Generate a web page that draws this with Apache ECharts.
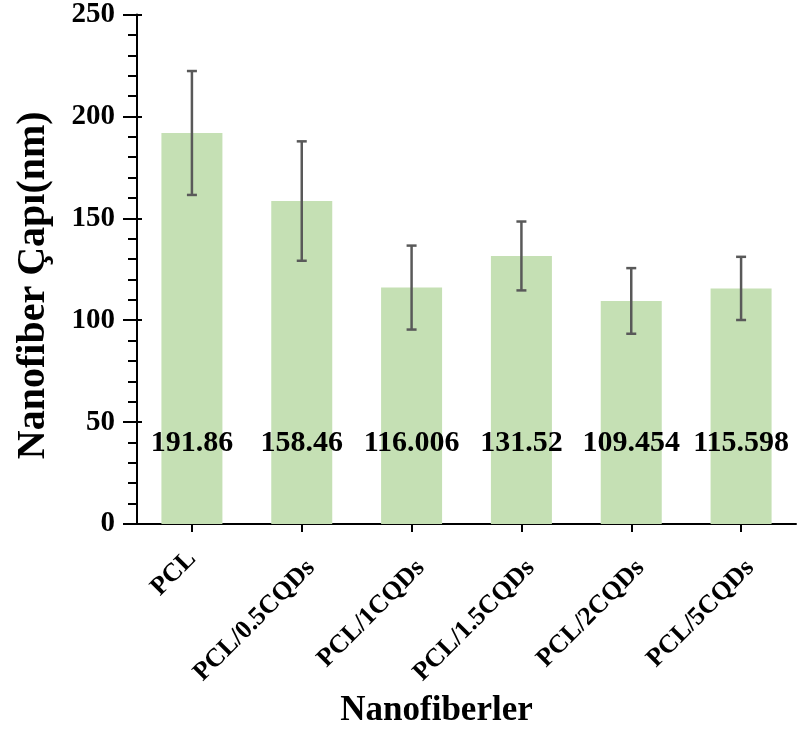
<!DOCTYPE html>
<html>
<head>
<meta charset="utf-8">
<script src="https://cdn.jsdelivr.net/npm/echarts@6/dist/echarts.min.js"></script>
<style>
html,body{margin:0;padding:0;background:#fff;}
#chart{width:803px;height:751px;}
</style>
</head>
<body>
<div id="chart"></div>
<script>
const categories = ['PCL', 'PCL/0.5CQDs', 'PCL/1CQDs', 'PCL/1.5CQDs', 'PCL/2CQDs', 'PCL/5CQDs'];
const means = [191.86, 158.46, 116.006, 131.52, 109.454, 115.598];
const sds = [30.4, 29.3, 20.6, 16.9, 16.1, 15.5];
const yTicks = [0, 50, 100, 150, 200, 250];

const FONT = '"Liberation Serif", "Times New Roman", serif';

const chart = echarts.init(document.getElementById('chart'), null, {renderer: 'canvas'});

const errData = categories.map((c, i) => [i, means[i], sds[i]]);
const xData = categories.map(c => (c.length > 4 ? {value: c, textStyle: {verticalAlign: 'top'}} : c));

const option = {
  animation: false,
  backgroundColor: '#ffffff',
  grid: {left: 137, right: 7, top: 14, bottom: 227, containLabel: false},
  xAxis: {
    type: 'category',
    data: xData,
    boundaryGap: true,
    axisLine: {show: true, lineStyle: {color: '#000', width: 2}},
    axisTick: {show: true, alignWithLabel: true, length: 8, lineStyle: {color: '#000', width: 2}},
    axisLabel: {
      rotate: 45, margin: 31, color: '#000',
      fontFamily: FONT, fontWeight: 'bold', fontSize: 26
    },
    name: 'Nanofiberler',
    nameLocation: 'middle',
    nameGap: 163,
    nameTextStyle: {
      color: '#000', fontFamily: FONT, fontWeight: 'bold', fontSize: 35,
      padding: [0, 60, 0, 0]
    }
  },
  yAxis: [{
    type: 'value',
    min: yTicks[0], max: yTicks[yTicks.length - 1], interval: 50,
    axisLine: {show: true, lineStyle: {color: '#000', width: 2}},
    axisTick: {show: true, length: 14, lineStyle: {color: '#000', width: 2}},
    minorTick: {show: true, splitNumber: 5, length: 9, lineStyle: {color: '#000', width: 2}},
    splitLine: {show: false},
    axisLabel: {
      margin: 22, color: '#000',
      fontFamily: FONT, fontWeight: 'bold', fontSize: 29
    },
    name: 'Nanofiber Çapı(nm)',
    nameLocation: 'middle',
    nameGap: 83,
    nameRotate: 90,
    nameTextStyle: {
      color: '#000', fontFamily: FONT, fontWeight: 'bold', fontSize: 40,
      padding: [0, 32, 0, 0]
    }
  }, {
    type: 'value',
    position: 'left',
    min: yTicks[0], max: yTicks[yTicks.length - 1], interval: 50,
    axisLine: {show: false},
    axisTick: {show: true, inside: true, length: 5, lineStyle: {color: '#000', width: 2}},
    splitLine: {show: false},
    axisLabel: {show: false}
  }],
  series: [{
    type: 'bar',
    data: means,
    barWidth: 61,
    itemStyle: {color: '#c5e0b4'},
    label: {
      show: true,
      position: 'insideBottom',
      distance: 66,
      color: '#000',
      fontFamily: FONT, fontWeight: 'bold', fontSize: 30,
      formatter: p => String(p.value)
    },
    z: 2
  }, {
    type: 'custom',
    data: errData,
    z: 5,
    renderItem: function (params, api) {
      const i = api.value(0), m = api.value(1), s = api.value(2);
      const hi = api.coord([i, m + s]);
      const lo = api.coord([i, m - s]);
      const hw = 5;
      const st = {stroke: '#595959', lineWidth: 2.5};
      return {
        type: 'group',
        children: [
          {type: 'line', shape: {x1: hi[0], y1: hi[1], x2: lo[0], y2: lo[1]}, style: st},
          {type: 'line', shape: {x1: hi[0] - hw, y1: hi[1], x2: hi[0] + hw, y2: hi[1]}, style: st},
          {type: 'line', shape: {x1: lo[0] - hw, y1: lo[1], x2: lo[0] + hw, y2: lo[1]}, style: st}
        ]
      };
    }
  }]
};

chart.setOption(option);
</script>
</body>
</html>
